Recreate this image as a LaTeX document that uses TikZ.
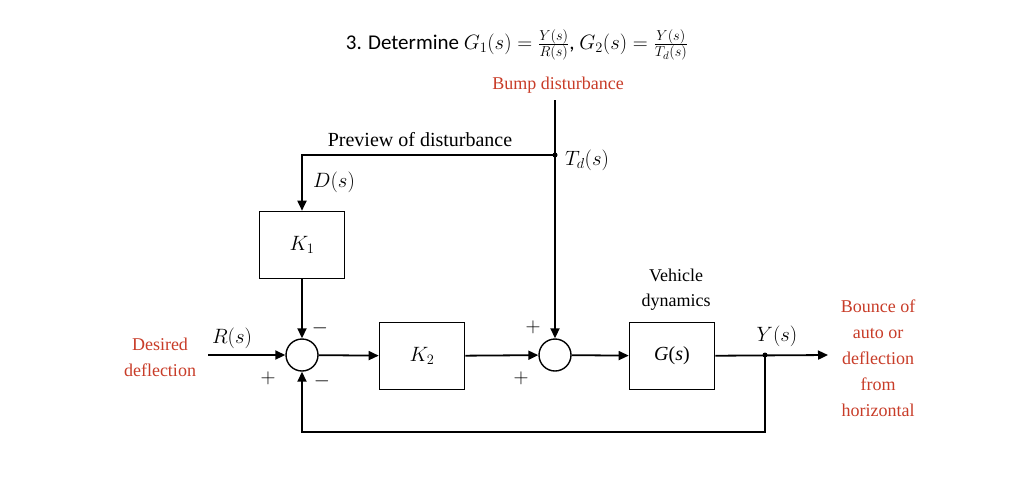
\documentclass[tikz,border=0pt]{standalone}
\usepackage{fontspec}
\setmainfont{Liberation Serif}
\newfontfamily\titlefont{Carlito}
\usetikzlibrary{arrows.meta}
\definecolor{rd}{RGB}{200,60,40}
\begin{document}
\begin{tikzpicture}[x=1pt,y=-1pt,
  blk/.style={draw,line width=1.6pt,minimum width=85,minimum height=67,inner sep=0pt,font=\fontsize{20}{24}\selectfont},
  sumc/.style={draw,line width=1.4pt,circle,minimum size=32,inner sep=0pt},
  ar/.style={line width=1.8pt,-{Triangle[length=10pt,width=9pt]}},
  red/.style={text=rd,align=center,font=\fontsize{18}{26}\selectfont},
  lb/.style={font=\fontsize{20}{24}\selectfont}]
\useasboundingbox (0,0) rectangle (1024,483);
\node[font=\titlefont\fontsize{21}{24}\selectfont] (title) at (517,45)
 {3. Determine $G_1(s)=\frac{Y(s)}{R(s)}$, $G_2(s)=\frac{Y(s)}{T_d(s)}$};
\node[red] (bump) at (558,85) {Bump disturbance};
\coordinate (tdtop) at (555,100);
\coordinate (dot) at (555,155);
\coordinate (pc) at (302,155);
\node[blk] (k1) at (302,245) {$K_1$};
\node[sumc] (s1) at (302,355) {};
\node[blk] (k2) at (422,356) {$K_2$};
\node[sumc] (s2) at (555,355) {};
\node[blk] (g) at (672,356) {\itshape G\/\upshape(\itshape s\upshape)};
\coordinate (in) at (208,355);
\coordinate (out) at (828,355);
\coordinate (br) at (765,355);
\coordinate (bb) at (765,432);
\coordinate (bl) at (302,432);
\fill (dot) circle (2.5);
\fill (br) circle (2.5);
\draw[ar] (tdtop) -- (s2);
\draw[ar] (dot) -- (pc) -- (k1.north);
\draw[ar] (k1.south) -- (s1);
\draw[ar] (in) -- (s1);
\draw[ar] (s1) -- (k2);
\draw[ar] (k2) -- (s2);
\draw[ar] (s2) -- (g);
\draw[ar] (g) -- (out);
\draw[ar] (br) -- (bb) -- (bl) -- (s1.south);
\node[lb] (pv) at (420,140) {Preview of disturbance};
\node[lb] (tdl) at (587,160) {$T_d(s)$};
\node[lb] (dl) at (334,182) {$D(s)$};
\node[lb] (rl) at (232,338) {$R(s)$};
\node[lb] (yl) at (777,336) {$Y(s)$};
\node[lb,align=center,font=\fontsize{18}{25}\selectfont] (vd) at (676,290) {Vehicle\\dynamics};
\node[red] (des) at (160,357) {Desired\\deflection};
\node[red] (bo) at (878,358) {Bounce of\\auto or\\deflection\\from\\horizontal};
\node[lb] (m1) at (320,328) {$-$};
\node[lb] (p1) at (268,378) {$+$};
\node[lb] (m2) at (322,381) {$-$};
\node[lb] (p2) at (533,327) {$+$};
\node[lb] (p3) at (521,378) {$+$};
\end{tikzpicture}
\end{document}
